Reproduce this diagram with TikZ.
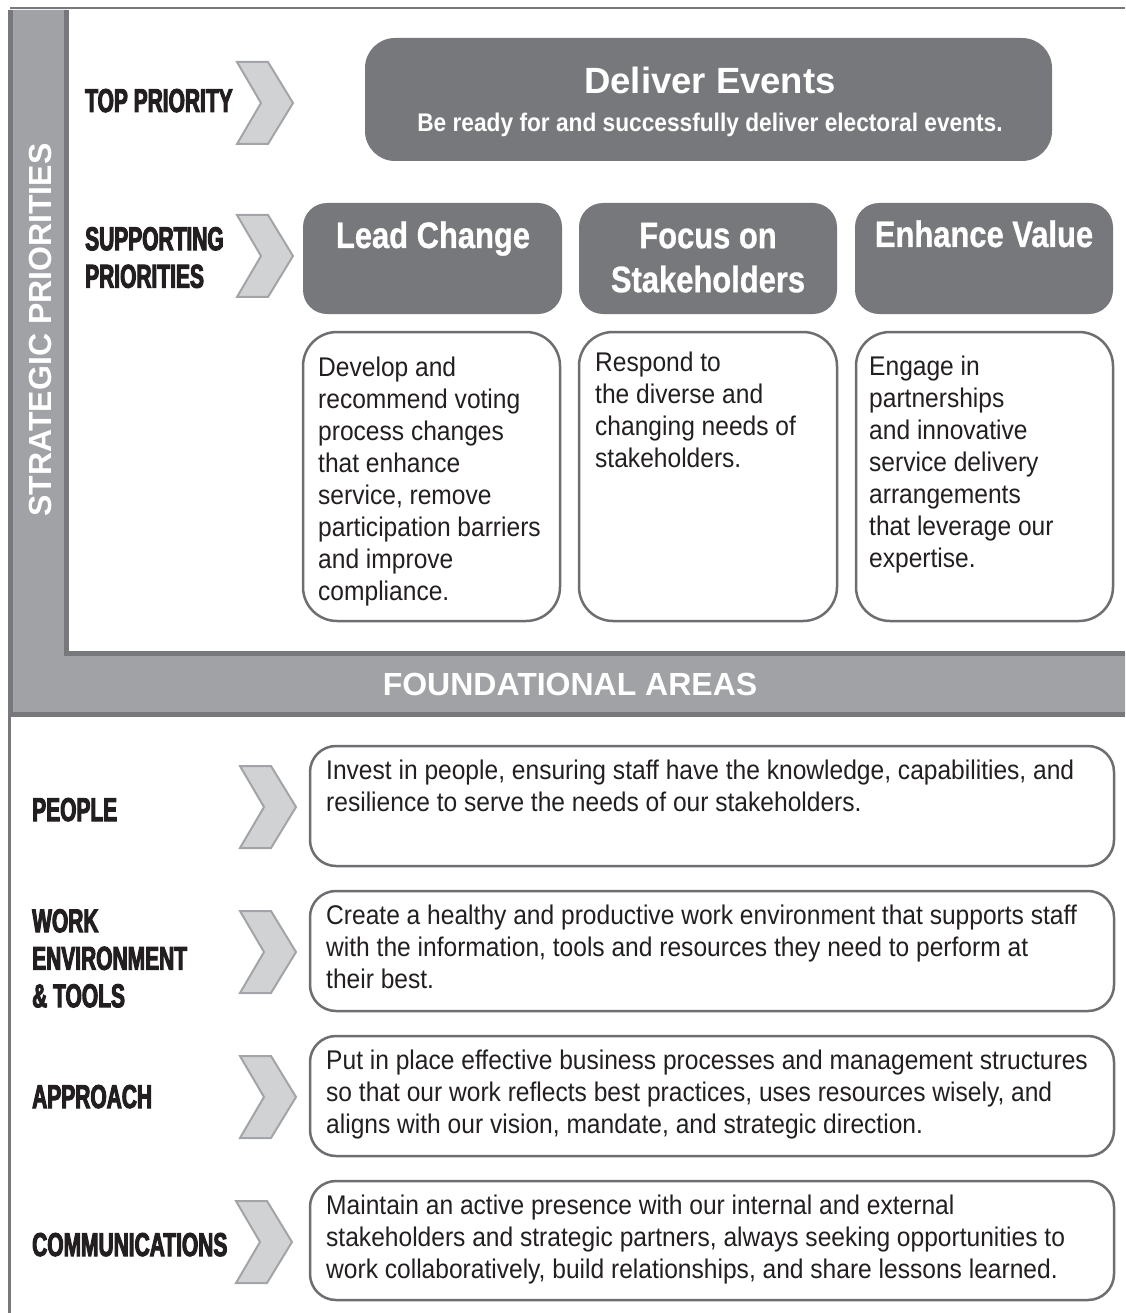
\documentclass[tikz,border=0pt]{standalone}
\usepackage{fontspec}
\setmainfont{Liberation Sans}
\newfontfamily\bodyf{Liberation Sans}[FakeStretch=0.91]
\newfontfamily\heavyf{Liberation Sans}[UprightFont=* Bold, FakeStretch=0.635, FakeBold=3]
\newfontfamily\titlef{Liberation Sans}[UprightFont=* Bold, FakeStretch=0.84, FakeBold=0.8]
\newfontfamily\subf{Liberation Sans}[UprightFont=* Bold, FakeStretch=0.89]
\definecolor{boxgray}{HTML}{77787B}
\definecolor{band}{HTML}{A1A2A5}
\definecolor{edge}{HTML}{77787B}
\definecolor{chevfill}{HTML}{D1D2D4}
\definecolor{chevedge}{HTML}{A3A4A7}
\definecolor{ink}{HTML}{231F20}
\definecolor{descedge}{HTML}{6D6E71}
\tikzset{
  chev/.pic={\draw[fill=chevfill, draw=chevedge, line width=2pt, line join=miter]
     (-28,-41) -- (3,-41) -- (28,0) -- (3,41) -- (-28,41) -- (-4,0) -- cycle;},
  darkbox/.style={fill=boxgray, draw=none, rounded corners=24pt, inner sep=0pt},
  descbox/.style={draw=descedge, line width=2.5pt, fill=white, rounded corners=34pt, inner sep=0pt},
  areabox/.style={draw=descedge, line width=2.5pt, fill=white, rounded corners=26pt, inner sep=0pt,
     minimum width=804pt, minimum height=120pt},
  bodytext/.style={anchor=north west, inner sep=0pt, align=left, text=ink,
     font=\bodyf\fontsize{27}{32}\selectfont},
  lbl/.style={inner sep=0pt, align=left, text=ink, font=\heavyf\fontsize{33}{37.5}\selectfont},
  titletext/.style={inner sep=0pt, align=center, text=white, font=\titlef\fontsize{36.8}{44}\selectfont},
  bandtext/.style={inner sep=0pt, text=white, font=\bfseries\fontsize{32}{38}\selectfont},
}
\begin{document}
\begin{tikzpicture}[x=1pt,y=-1pt]
\useasboundingbox (0,0) rectangle (1125,1313);
% frame
\fill[band] (10,10) -- (67,10) -- (67,653) -- (1125,653) -- (1125,714) -- (10,714) -- cycle;
\draw[edge, line width=2pt] (10,8) -- (1125,8);
\draw[edge, line width=5pt] (10.5,10) -- (10.5,716.5);
\draw[edge, line width=5pt] (66.5,10) -- (66.5,653) -- (1125,653);
\draw[edge, line width=5pt] (8,714) -- (1125,714);
\draw[edge, line width=3pt] (9.5,716) -- (9.5,1313);
\node[bandtext, rotate=90] (sp) at (40,330) {STRATEGIC PRIORITIES};
\node[bandtext] (fa) at (570,684) {FOUNDATIONAL AREAS};

% top priority
\node[lbl, anchor=base west] (tp) at (85,112) {TOP PRIORITY};
\pic (ch1) at (265,103) {chev};
\node[darkbox, rounded corners=30pt, minimum width=687pt, minimum height=123pt] (deliver) at (708.5,99.5) {};
\node[anchor=base, inner sep=0pt, text=white, font=\bfseries\fontsize{36.5}{42}\selectfont] (dt) at (710,93.5) {Deliver Events};
\node[anchor=base, inner sep=0pt, text=white, font=\subf\fontsize{25.5}{30}\selectfont] (ds) at (710,132) {Be ready for and successfully deliver electoral events.};

% supporting priorities
\node[lbl, anchor=north west] (spr) at (85,225) {\rule{0pt}{25pt}SUPPORTING\\PRIORITIES};
\pic (ch2) at (265,256) {chev};
\node[darkbox, minimum width=259pt, minimum height=111pt] (lead) at (432.5,258.5) {};
\node[darkbox, minimum width=258pt, minimum height=111pt] (focus) at (708,258.5) {};
\node[darkbox, minimum width=258pt, minimum height=111pt] (enh) at (984,258.5) {};
\node[titletext, anchor=base] (leadt) at (433,248) {Lead Change};
\node[titletext, anchor=north] (focust) at (708,220) {\rule{0pt}{28pt}Focus on\\Stakeholders};
\node[titletext, anchor=base] (enht) at (984,247) {Enhance Value};

\node[descbox, minimum width=257pt, minimum height=289pt] (leadd) at (431.5,476.5) {};
\node[descbox, minimum width=258pt, minimum height=289pt] (focusd) at (708,476.5) {};
\node[descbox, minimum width=257pt, minimum height=289pt] (enhd) at (984.5,476.5) {};
\node[bodytext] (leaddt) at (318,352) {\rule{0pt}{24pt}Develop and\\recommend voting\\process changes\\that enhance\\service, remove\\participation barriers\\and improve\\compliance.};
\node[bodytext] (focusdt) at (595,347) {\rule{0pt}{24pt}Respond to\\the diverse and\\changing needs of\\stakeholders.};
\node[bodytext] (enhdt) at (869,351) {\rule{0pt}{24pt}Engage in\\partnerships\\and innovative\\service delivery\\arrangements\\that leverage our\\expertise.};

% foundational areas
\node[lbl, anchor=base west] (pl) at (32,821) {PEOPLE};
\pic (ch3) at (268,807) {chev};
\node[areabox] (pb) at (712,806) {};
\node[bodytext] (pt) at (326,755) {\rule{0pt}{24pt}Invest in people, ensuring staff have the knowledge, capabilities, and\\resilience to serve the needs of our stakeholders.};

\node[lbl, anchor=north west] (wl) at (32,907) {\rule{0pt}{25pt}WORK\\ENVIRONMENT\\\&~TOOLS};
\pic (ch4) at (268,952) {chev};
\node[areabox] (wb) at (712,951) {};
\node[bodytext] (wt) at (326,900) {\rule{0pt}{24pt}Create a healthy and productive work environment that supports staff\\with the information, tools and resources they need to perform at\\their best.};

\node[lbl, anchor=base west] (al) at (32,1108) {APPROACH};
\pic (ch5) at (268,1097) {chev};
\node[areabox] (ab) at (712,1096) {};
\node[bodytext] (at) at (326,1045) {\rule{0pt}{24pt}Put in place effective business processes and management structures\\so that our work reflects best practices, uses resources wisely, and\\aligns with our vision, mandate, and strategic direction.};

\node[lbl, anchor=base west] (cl) at (32,1256) {COMMUNICATIONS};
\pic (ch6) at (264,1242) {chev};
\node[areabox, minimum height=119pt] (cb) at (712,1240.5) {};
\node[bodytext] (ct) at (326,1190) {\rule{0pt}{24pt}Maintain an active presence with our internal and external\\stakeholders and strategic partners, always seeking opportunities to\\work collaboratively, build relationships, and share lessons learned.};
\end{tikzpicture}
\end{document}
